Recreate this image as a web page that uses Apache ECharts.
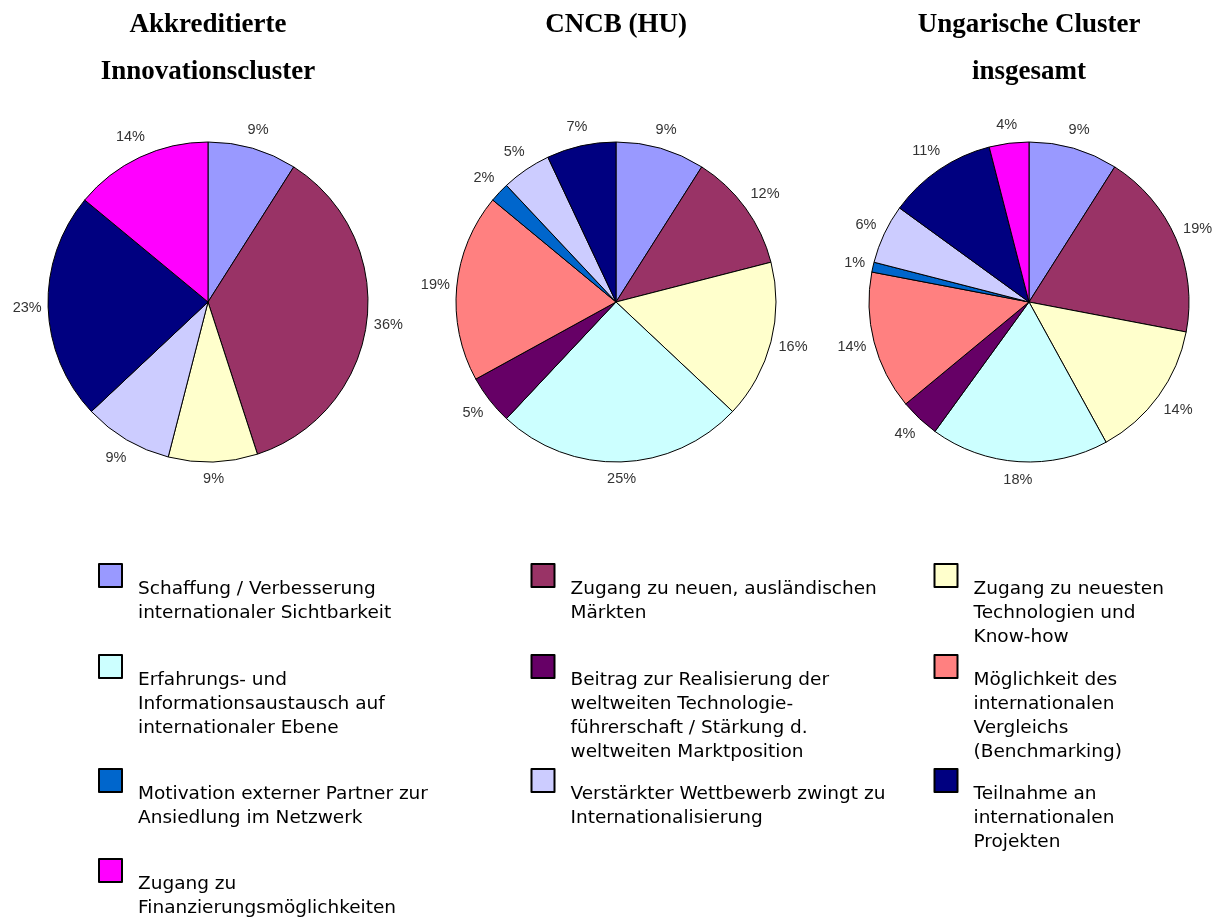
<!DOCTYPE html>
<html>
<head>
<meta charset="utf-8">
<script src="https://cdn.jsdelivr.net/npm/echarts@6/dist/echarts.min.js"></script>
<style>
html,body{margin:0;padding:0;background:#fff;}
#chart{width:1214px;height:919px;}
</style>
</head>
<body>
<div id="chart"></div>
<script>
// ---- data ----
var categories = [
  'Schaffung / Verbesserung\ninternationaler Sichtbarkeit',
  'Zugang zu neuen, ausländischen\nMärkten',
  'Zugang zu neuesten\nTechnologien und\nKnow-how',
  'Erfahrungs- und\nInformationsaustausch auf\ninternationaler Ebene',
  'Beitrag zur Realisierung der\nweltweiten Technologie-\nführerschaft / Stärkung d.\nweltweiten Marktposition',
  'Möglichkeit des\ninternationalen\nVergleichs\n(Benchmarking)',
  'Motivation externer Partner zur\nAnsiedlung im Netzwerk',
  'Verstärkter Wettbewerb zwingt zu\nInternationalisierung',
  'Teilnahme an\ninternationalen\nProjekten',
  'Zugang zu\nFinanzierungsmöglichkeiten'
];
var colors = ['#9999FF','#993366','#FFFFCC','#CCFFFF','#660066','#FF8080','#0066CC','#CCCCFF','#000080','#FF00FF'];
var pieTitles = ['Akkreditierte\nInnovationscluster', 'CNCB (HU)', 'Ungarische Cluster\ninsgesamt'];
var valuesAkkreditiert = [9, 36, 9, 0, 0, 0, 0, 9, 23, 14];
var valuesCNCB = [9, 12, 16, 25, 5, 19, 2, 5, 7, 0];
var valuesUngarn = [9, 19, 14, 18, 4, 14, 1, 6, 11, 4];

// ---- layout ----
var pieValues = [valuesAkkreditiert, valuesCNCB, valuesUngarn];
var pieCenters = [[208, 302], [616, 302], [1029, 302]];
var pieRadius = 160;
var legendCols = [97, 529.5, 932.5];
var legendRows = [562, 653, 767, 857];

var chart = echarts.init(document.getElementById('chart'), null, {renderer: 'canvas'});

function labelLayout(p) {
  var pts = p.labelLinePoints;
  if (!pts || pts.length < 2) return {};
  var dx = pts[1][0] - pts[0][0], dy = pts[1][1] - pts[0][1];
  var len = Math.sqrt(dx * dx + dy * dy) || 1;
  dx /= len; dy /= len;
  var w = p.labelRect.width;
  var ext = 6 + Math.abs(dx) * w / 2 + Math.abs(dy) * 11;
  return {x: pts[0][0] + dx * ext, y: pts[0][1] + dy * ext, align: 'center', verticalAlign: 'middle'};
}

var series = pieValues.map(function (vals, k) {
  var data = [];
  vals.forEach(function (v, i) {
    if (v > 0) data.push({name: categories[i], value: v, itemStyle: {color: colors[i]}});
  });
  return {
    type: 'pie',
    center: pieCenters[k],
    radius: pieRadius,
    startAngle: 90,
    clockwise: true,
    avoidLabelOverlap: false,
    animation: false,
    emphasis: {disabled: true, scale: false},
    itemStyle: {borderColor: '#000', borderWidth: 1},
    label: {
      show: true,
      position: 'outside',
      formatter: '{c}%',
      color: '#333',
      fontFamily: 'Liberation Sans, Arial, sans-serif',
      fontSize: 14.5
    },
    labelLine: {show: true, length: 10, length2: 0, lineStyle: {opacity: 0}},
    labelLayout: labelLayout,
    data: data
  };
});

var titles = pieTitles.map(function (t, k) {
  return {
    text: t,
    left: pieCenters[k][0],
    top: 2,
    padding: 0,
    textAlign: 'center',
    textStyle: {
      fontFamily: 'Liberation Serif, Times New Roman, serif',
      fontWeight: 'bold',
      fontSize: 27,
      lineHeight: 47,
      color: '#000'
    }
  };
});

// legend texts (multi-line), placed next to each legend icon
categories.forEach(function (name, i) {
  titles.push({
    text: name,
    left: legendCols[i % 3] + 41,
    top: legendRows[Math.floor(i / 3)] + 15,
    padding: 0,
    textStyle: {
      fontFamily: 'DejaVu Sans, sans-serif',
      fontWeight: 'normal',
      fontSize: 18.5,
      lineHeight: 24,
      color: '#000'
    }
  });
});

var legends = categories.map(function (name, i) {
  return {
    data: [name],
    left: legendCols[i % 3] + 1,
    top: legendRows[Math.floor(i / 3)] + 1,
    padding: 0,
    selectedMode: false,
    icon: 'rect',
    itemWidth: 23,
    itemHeight: 23,
    itemStyle: {borderColor: '#000', borderWidth: 2},
    formatter: function () { return ''; }
  };
});

chart.setOption({
  backgroundColor: '#fff',
  animation: false,
  title: titles,
  legend: legends,
  series: series
});
</script>
</body>
</html>
